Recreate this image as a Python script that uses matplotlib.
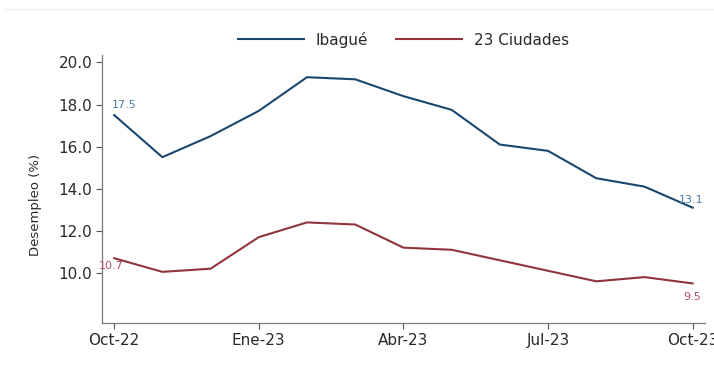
import matplotlib.pyplot as plt
from matplotlib.lines import Line2D

# Datos: tasa de desempleo trimestre movil (%)
meses = ['Oct-22', 'Nov-22', 'Dic-22', 'Ene-23', 'Feb-23', 'Mar-23', 'Abr-23',
         'May-23', 'Jun-23', 'Jul-23', 'Ago-23', 'Sep-23', 'Oct-23']
ibague = [17.5, 15.5, 16.5, 17.7, 19.3, 19.2, 18.4, 17.75, 16.1, 15.8, 14.5, 14.1, 13.1]
ciudades = [10.7, 10.05, 10.2, 11.7, 12.4, 12.3, 11.2, 11.1, 10.6, 10.1, 9.6, 9.8, 9.5]
ticks_pos = [0, 3, 6, 9, 12]
ticks_lab = ['Oct-22', 'Ene-23', 'Abr-23', 'Jul-23', 'Oct-23']

plt.rcParams['font.family'] = ['DejaVu Sans']

azul = '#1a476f'
rojo = '#90353b'
gris_txt = '#2a2a2a'

fig = plt.figure(figsize=(7.14, 3.66), dpi=100)
ax = fig.add_axes([0.143, 0.1175, 0.844, 0.7325])

x = list(range(len(meses)))
ax.plot(x, ibague, color=azul, lw=1.5, label='Ibagué')
ax.plot(x, ciudades, color=rojo, lw=1.5, label='23 Ciudades')

# etiquetas de inicio y fin
ax.annotate(f'{ibague[0]:.1f}', (x[0], ibague[0]), xytext=(-2, 4), textcoords='offset points',
            fontsize=8, color='#4a7aa8', ha='left', va='bottom')
ax.annotate(f'{ciudades[0]:.1f}', (x[0], ciudades[0]), xytext=(-11, -2), textcoords='offset points',
            fontsize=8, color='#b0506a', ha='left', va='top')
ax.annotate(f'{ibague[-1]:.1f}', (x[-1], ibague[-1]), xytext=(-10, 2), textcoords='offset points',
            fontsize=8, color='#4a7aa8', ha='left', va='bottom')
ax.annotate(f'{ciudades[-1]:.1f}', (x[-1], ciudades[-1]), xytext=(-7, -6), textcoords='offset points',
            fontsize=8, color='#b0506a', ha='left', va='top')

ax.set_xlim(-0.25, 12.25)
ax.set_ylim(7.62, 20.36)
ax.set_xticks(ticks_pos)
ax.set_xticklabels(ticks_lab, fontsize=11, color=gris_txt)
ax.set_yticks([10, 12, 14, 16, 18, 20])
ax.set_yticklabels([f'{v:.1f}' for v in [10, 12, 14, 16, 18, 20]], fontsize=11, color=gris_txt)
ax.set_ylabel('Desempleo (%)', fontsize=9.5, color=gris_txt)
ax.yaxis.set_label_coords(-0.1, 0.44)
ax.tick_params(length=4, width=0.8, color='#555555', pad=3)

for s in ['top', 'right']:
    ax.spines[s].set_visible(False)
for s in ['left', 'bottom']:
    ax.spines[s].set_color('#777777')
    ax.spines[s].set_linewidth(0.9)

leg = ax.legend(loc='center', bbox_to_anchor=(0.5, 1.057), ncol=2, frameon=False,
                fontsize=11, handlelength=4.3, handletextpad=0.8, columnspacing=1.8)
for t in leg.get_texts():
    t.set_color(gris_txt)

fig.add_artist(Line2D([0.007, 1.0], [0.975, 0.975], color='#eeeeee', lw=0.8))

plt.savefig('out.png', dpi=100)
